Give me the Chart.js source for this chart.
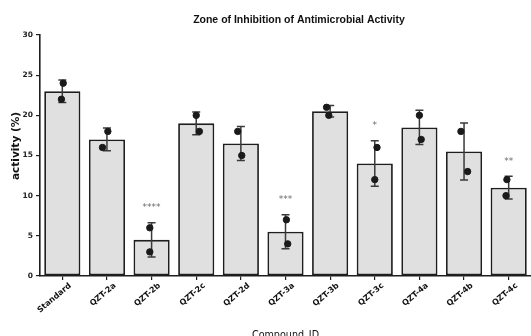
<!DOCTYPE html>
<html>
<head>
<meta charset="utf-8">
<script src="https://cdn.jsdelivr.net/npm/chart.js@4.4.0/dist/chart.umd.min.js"></script>
<style>
    html, body { margin: 0; padding: 0; background: #fff; }
    #wrap { width: 531px; height: 336px; }
</style>
</head>
<body>
<div id="wrap"><canvas id="chart" width="531" height="336"></canvas></div>
<script>
// data
const compounds = ['Standard', 'QZT-2a', 'QZT-2b', 'QZT-2c', 'QZT-2d', 'QZT-3a', 'QZT-3b', 'QZT-3c', 'QZT-4a', 'QZT-4b', 'QZT-4c'];
const meanActivity = [23, 17, 4.5, 19, 16.5, 5.5, 20.5, 14, 18.5, 15.5, 11];
const sdActivity = [1.41, 1.41, 2.12, 1.41, 2.12, 2.12, 0.71, 2.83, 2.12, 3.54, 1.41];
const replicateA = [24, 18, 6, 20, 18, 7, 21, 16, 20, 18, 12];
const replicateB = [22, 16, 3, 18, 15, 4, 20, 12, 17, 13, 10];
const significance = ['', '', '****', '', '', '***', '', '*', '', '', '**'];
const yTicks = [0, 5, 10, 15, 20, 25, 30];

// small horizontal scatter of the replicate dots (in category units)
const jitterA = [0.02, 0.02, -0.04, 0, -0.07, 0.02, -0.08, 0.05, 0, -0.07, -0.04];
const jitterB = [-0.02, -0.1, -0.04, 0.07, 0.02, 0.05, -0.03, 0, 0.04, 0.08, -0.06];

const ink = '#1e1e1e';

// error bars + significance stars, drawn through the chart scales
const errorBarPlugin = {
    id: 'errorBars',
    afterDatasetDraw(chart, args) {
        if (args.index !== 0) return;
        const ctx = chart.ctx;
        const x = chart.scales.x;
        const y = chart.scales.y;
        ctx.save();
        ctx.strokeStyle = '#3a3a3a';
        ctx.lineWidth = 1.5;
        meanActivity.forEach((m, i) => {
            const px = x.getPixelForValue(i);
            const top = y.getPixelForValue(m + sdActivity[i]);
            const bot = y.getPixelForValue(m - sdActivity[i]);
            ctx.beginPath();
            ctx.moveTo(px, top); ctx.lineTo(px, bot);
            ctx.moveTo(px - 4, top); ctx.lineTo(px + 4, top);
            ctx.moveTo(px - 4, bot); ctx.lineTo(px + 4, bot);
            ctx.stroke();
        });
        ctx.restore();
    },
    afterDatasetsDraw(chart) {
        const ctx = chart.ctx;
        const x = chart.scales.x;
        const y = chart.scales.y;
        ctx.save();
        ctx.fillStyle = '#6a6a6a';
        ctx.font = '9px "DejaVu Sans"';
        ctx.textAlign = 'center';
        ctx.textBaseline = 'middle';
        significance.forEach((s, i) => {
            if (!s) return;
            const py = y.getPixelForValue(meanActivity[i] + sdActivity[i] + 2.1);
            ctx.fillText(s, x.getPixelForValue(i), py + 2);
        });
        ctx.restore();
    }
};

// chart title and y title
const labelsPlugin = {
    id: 'labels',
    afterDraw(chart) {
        const ctx = chart.ctx;
        ctx.save();
        ctx.fillStyle = '#111';
        ctx.textAlign = 'center';
        ctx.textBaseline = 'middle';
        ctx.font = 'bold 10.5px "Liberation Sans"';
        ctx.fillText('Zone of Inhibition of Antimicrobial Activity', 299, 20);
        ctx.translate(16.5, 146);
        ctx.rotate(-Math.PI / 2);
        ctx.font = 'bold 10.5px "DejaVu Sans"';
        ctx.fillText('activity (%)', 0, 0);
        ctx.restore();
    }
};

const dotStyle = { backgroundColor: '#1a1a1a', borderColor: '#1a1a1a', pointRadius: 3.2, order: 1 };

new Chart(document.getElementById('chart'), {
    type: 'scatter',
    data: {
        datasets: [{
            type: 'bar',
            label: 'activity',
            data: meanActivity.map((m, i) => ({ x: i, y: m })),
            backgroundColor: '#e0e0e0',
            borderColor: ink,
            borderWidth: 1.8,
            borderSkipped: false,
            categoryPercentage: 1.0,
            barPercentage: 0.81,
            order: 3
        }, {
            label: 'rep A',
            data: replicateA.map((v, i) => ({ x: i + jitterA[i], y: v })),
            ...dotStyle
        }, {
            label: 'rep B',
            data: replicateB.map((v, i) => ({ x: i + jitterB[i], y: v })),
            ...dotStyle
        }]
    },
    options: {
        responsive: false,
        animation: false,
        layout: { autoPadding: false, padding: { top: 35, right: 0, left: 0, bottom: 0 } },
        plugins: {
            legend: { display: false },
            tooltip: { enabled: false },
            title: { display: false }
        },
        scales: {
            x: {
                type: 'linear',
                offset: false,
                min: -0.5,
                max: compounds.length - 0.5,
                afterBuildTicks(scale) { scale.ticks = compounds.map((c, i) => ({ value: i })); },
                grid: { display: true, offset: false, drawOnChartArea: false, drawTicks: true, tickLength: 4, color: ink, lineWidth: 1.2 },
                border: { display: true, color: ink, width: 1.6 },
                ticks: {
                    autoSkip: false,
                    minRotation: 40,
                    maxRotation: 40,
                    padding: 1,
                    labelOffset: 8,
                    color: '#111',
                    font: { family: 'DejaVu Sans', size: 8, weight: 'bold' },
                    callback: (v) => compounds[v]
                },
                title: {
                    display: true,
                    text: 'Compound_ID',
                    color: '#111',
                    font: { family: 'DejaVu Sans', size: 9.6 },
                    padding: { top: 0, bottom: -5 }
                },
                afterFit(scale) {
                    scale.height = 60;
                    scale.paddingRight = 0;
                }
            },
            y: {
                type: 'linear',
                min: 0,
                max: 30,
                afterBuildTicks(scale) { scale.ticks = yTicks.map(v => ({ value: v })); },
                grid: { display: true, drawOnChartArea: false, drawTicks: true, tickLength: 4, color: ink, lineWidth: 1.2 },
                border: { display: true, color: ink, width: 1.6 },
                ticks: {
                    padding: 3,
                    color: '#222',
                    font: { family: 'DejaVu Sans', size: 7.5, weight: 'bold' }
                },
                afterFit(scale) { scale.width = 40; }
            }
        }
    },
    plugins: [errorBarPlugin, labelsPlugin]
});
</script>
</body>
</html>
